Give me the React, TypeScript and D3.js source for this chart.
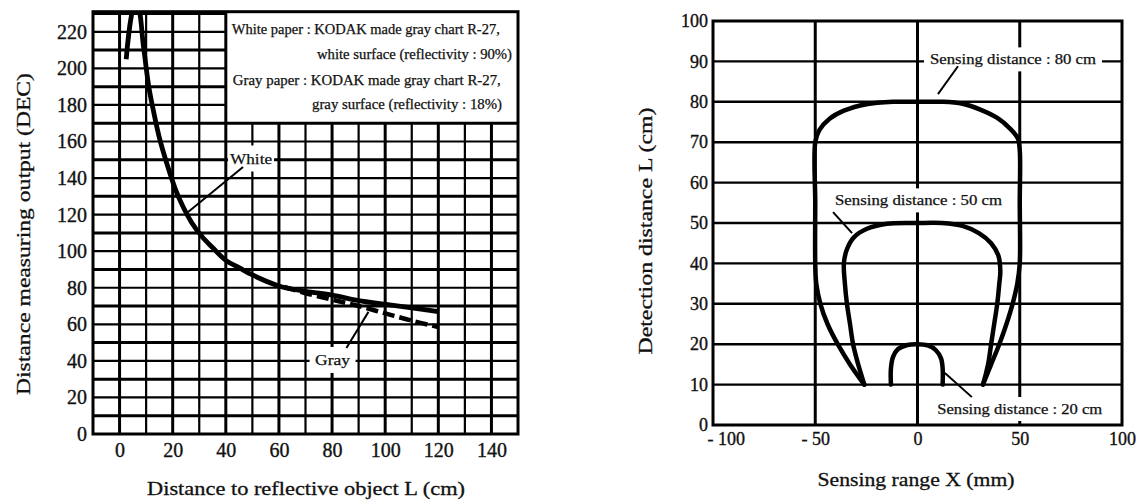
import * as d3 from "d3";
import React, { useRef, useEffect } from "react";

const width = 1141;
const height = 502;
const FONT = '"Liberation Serif", "Times New Roman", Times, serif';
const INK = "#111";

// ---- left chart: distance measuring output vs distance ----
const distanceTicks = [0, 20, 40, 60, 80, 100, 120, 140];
const outputTicks = [0, 20, 40, 60, 80, 100, 120, 140, 160, 180, 200, 220];

// [distance L (cm), output (DEC)]
const whitePaper: [number, number][] = [
  [2.5, 205], [5.6, 234], [6.8, 234], [9, 212], [11, 190], [13, 175],
  [15, 162], [18, 147], [21, 134], [24, 124], [27, 116], [31, 108],
  [35, 102], [40, 95], [45, 91], [50, 87], [60, 81], [70, 78], [80, 76],
  [90, 73], [100, 71], [110, 69], [120, 67],
];
const grayPaper: [number, number][] = [
  [62, 80.5], [70, 77], [80, 73.5], [90, 70], [100, 66], [110, 62], [120, 58.5],
];

const legendLines = [
  "White paper : KODAK made gray chart R-27,",
  "white surface (reflectivity : 90%)",
  "Gray paper : KODAK made gray chart R-27,",
  "gray surface (reflectivity : 18%)",
];

// ---- right chart: detection area ----
const rangeTicks = [-100, -50, 0, 50, 100];
const detectTicks = [0, 10, 20, 30, 40, 50, 60, 70, 80, 90, 100];

// [sensing range X (mm), detection distance L (cm)]
const area80: [number, number][] = [
  [-26, 10], [-33, 15], [-39, 20], [-44, 25], [-47.5, 30], [-49.5, 35],
  [-50, 40], [-50, 55], [-50, 70], [-48, 73], [-43, 75.8], [-36, 77.8],
  [-25, 79.4], [-12, 80], [0, 80], [12, 80], [22, 79.5], [31, 78],
  [39, 76], [45, 73.5], [49, 71], [50, 68], [50, 55], [50, 40],
  [48.8, 35], [46.5, 30], [43.5, 25], [40, 20], [36, 15], [32, 10],
];
const area50: [number, number][] = [
  [-26, 10], [-29, 15], [-31.5, 20], [-33, 25], [-34.5, 30], [-35.5, 35],
  [-36, 40], [-34.5, 43.5], [-31, 46.5], [-25, 48.5], [-15, 49.8], [0, 50],
  [12, 50], [22, 49.3], [30, 47.5], [36, 45], [39.5, 42], [40.5, 38],
  [40, 35], [39, 30], [37.5, 25], [36, 20], [34.5, 15], [32, 10],
];
const area20: [number, number][] = [
  [-13, 10], [-13, 14], [-12, 16.8], [-9.5, 18.8], [-5, 19.8], [0, 20],
  [5, 19.7], [9, 18.5], [11.5, 16.5], [12.3, 14], [12.3, 10],
];

// scales
const xL = d3.scaleLinear().domain([-10, 150]).range([93, 518]);
const yL = d3.scaleLinear().domain([0, 231]).range([434, 11.7]);
const xR = d3.scaleLinear().domain([-100, 100]).range([713, 1122]);
const yR = d3.scaleLinear().domain([0, 100]).range([425, 21]);

// annotations (anchor in data units, widths in px)
const leftNotes = [
  { text: "White", x: 49.5, y: 150.7, len: 42, bg: 46, from: [46.5, 146], to: [25.8, 121.4] },
  { text: "Gray", x: 80.2, y: 40.5, len: 35, bg: 46, from: [85.4, 47], to: [93.7, 66.8] },
];
const rightNotes = [
  { text: "Sensing distance : 80 cm", x: 46.7, y: 90.5, len: 166, bg: 178, from: [19.8, 88.8], to: [10, 81.9] },
  { text: "Sensing distance : 50 cm", x: 0.5, y: 55.6, len: 167, bg: 170, from: [-41.3, 52.7], to: [-32, 47.5] },
  { text: "Sensing distance : 20 cm", x: 50, y: 3.96, len: 165, bg: 170, from: [26.6, 6.9], to: [13.4, 12.9] },
];

const App = () => {
  const lyRef = useRef<SVGGElement>(null);
  const lxRef = useRef<SVGGElement>(null);
  const ryRef = useRef<SVGGElement>(null);
  const rxRef = useRef<SVGGElement>(null);

  useEffect(() => {
    // scanned look: slightly heavier glyphs
    const tidy = (g: any, size: number) => {
      g.attr("font-family", FONT).attr("font-size", size);
      g.select(".domain").remove();
      g.selectAll("text").attr("fill", INK).attr("stroke", INK).attr("stroke-width", 0.35);
    };
    d3.select(lyRef.current)
      .call(d3.axisLeft(yL).tickValues(outputTicks).tickSize(0).tickPadding(6) as any)
      .call((g: any) => tidy(g, 20));
    d3.select(lxRef.current)
      .call(d3.axisBottom(xL).tickValues(distanceTicks).tickSize(0).tickPadding(9) as any)
      .call((g: any) => tidy(g, 20));
    d3.select(ryRef.current)
      .call(d3.axisLeft(yR).tickValues(detectTicks).tickSize(0).tickPadding(5) as any)
      .call((g: any) => tidy(g, 18));
    d3.select(rxRef.current)
      .call(
        d3
          .axisBottom(xR)
          .tickValues(rangeTicks)
          .tickSize(0)
          .tickPadding(7)
          .tickFormat((d: any) => (d < 0 ? `- ${-d}` : `${d}`)) as any
      )
      .call((g: any) => tidy(g, 18));
    // the leftmost label hangs right of its tick
    d3.select(rxRef.current)
      .selectAll(".tick text")
      .filter((d: any) => d === -100)
      .attr("text-anchor", "start")
      .attr("x", -6);
  }, []);

  const lineL = d3
    .line<[number, number]>()
    .x((d) => xL(d[0]))
    .y((d) => yL(d[1]))
    .curve(d3.curveCatmullRom.alpha(0.5));
  const lineR = d3
    .line<[number, number]>()
    .x((d) => xR(d[0]))
    .y((d) => yR(d[1]))
    .curve(d3.curveCatmullRom.alpha(0.5));

  const boxLeft = xL(40);
  const boxRight = xL(150);
  const boxTop = yL(231);

  return (
    <svg
      width={width}
      height={height}
      style={{ position: "absolute", left: 0, top: 0, background: "#fff" }}
    >
      <defs>
        <clipPath id="leftPlot">
          <rect x={xL(-10)} y={yL(231)} width={xL(150) - xL(-10)} height={yL(0) - yL(231)} />
        </clipPath>
      </defs>

      {/* ---------- left chart grid ---------- */}
      <g stroke="#000">
        {d3.range(0, 150, 10).map((v) => (
          <line
            key={"lv" + v}
            x1={xL(v)}
            x2={xL(v)}
            y1={yL(0)}
            y2={v > 40 ? yL(170) : yL(231)}
            strokeWidth={v % 20 === 0 ? 3 : 2.2}
          />
        ))}
        {d3.range(10, 231, 10).map((h) => (
          <line
            key={"lh" + h}
            x1={xL(-10)}
            x2={h > 170 ? xL(40) : xL(150)}
            y1={yL(h)}
            y2={yL(h)}
            strokeWidth={h % 20 === 10 ? 3 : 2.2}
          />
        ))}
      </g>
      {leftNotes.map((n) => (
        <rect
          key={"lbg" + n.text}
          x={xL(n.x) - n.bg / 2}
          y={yL(n.y) - 13}
          width={n.bg}
          height={26}
          fill="#fff"
        />
      ))}
      <rect
        x={xL(-10)}
        y={yL(231)}
        width={xL(150) - xL(-10)}
        height={yL(0) - yL(231)}
        fill="none"
        stroke="#000"
        strokeWidth={3}
      />

      {/* curves */}
      <g clipPath="url(#leftPlot)" fill="none" stroke="#000" strokeLinejoin="round">
        <path d={lineL(grayPaper) || ""} strokeWidth={4.5} strokeDasharray="12 5" />
        <path d={lineL(whitePaper) || ""} strokeWidth={4.8} />
      </g>

      {/* annotations */}
      {leftNotes.map((n) => (
        <g key={"ln" + n.text}>
          <line
            x1={xL(n.from[0])}
            y1={yL(n.from[1])}
            x2={xL(n.to[0])}
            y2={yL(n.to[1])}
            stroke="#000"
            strokeWidth={2}
          />
          <text
            x={xL(n.x)}
            y={yL(n.y)}
            dy="0.35em"
            textAnchor="middle"
            fontFamily={FONT}
            fontSize={15}
            fill={INK}
            stroke={INK}
            strokeWidth={0.25}
            textLength={n.len}
            lengthAdjust="spacingAndGlyphs"
          >
            {n.text}
          </text>
        </g>
      ))}

      {/* legend box text */}
      <g fontFamily={FONT} fontSize={14} fill={INK} stroke={INK} strokeWidth={0.25}>
        <text x={boxLeft + 6} y={boxTop + 22} textLength={268} lengthAdjust="spacingAndGlyphs">
          {legendLines[0]}
        </text>
        <text x={boxRight - 6} y={boxTop + 47} textAnchor="end" textLength={195} lengthAdjust="spacingAndGlyphs">
          {legendLines[1]}
        </text>
        <text x={boxLeft + 7} y={boxTop + 73} textLength={268} lengthAdjust="spacingAndGlyphs">
          {legendLines[2]}
        </text>
        <text x={boxRight - 16} y={boxTop + 97} textAnchor="end" textLength={190} lengthAdjust="spacingAndGlyphs">
          {legendLines[3]}
        </text>
      </g>

      <g ref={lyRef} transform={`translate(${xL(-10)},0)`} />
      <g ref={lxRef} transform={`translate(0,${yL(0)})`} />

      <g fontFamily={FONT} fontSize={19} fill={INK} stroke={INK} strokeWidth={0.3}>
        <text
          transform={`translate(30,234) rotate(-90)`}
          textAnchor="middle"
          textLength={322}
          lengthAdjust="spacingAndGlyphs"
        >
          Distance measuring output (DEC)
        </text>
        <text x={306} y={495} textAnchor="middle" textLength={318} lengthAdjust="spacingAndGlyphs">
          Distance to reflective object L (cm)
        </text>
      </g>

      {/* ---------- right chart grid ---------- */}
      <g stroke="#000">
        {[-50, 0, 50].map((v) => (
          <line key={"rv" + v} x1={xR(v)} x2={xR(v)} y1={yR(0)} y2={yR(100)} strokeWidth={3} />
        ))}
        {d3.range(10, 100, 10).map((h) => (
          <line key={"rh" + h} x1={xR(-100)} x2={xR(100)} y1={yR(h)} y2={yR(h)} strokeWidth={2.4} />
        ))}
      </g>
      {rightNotes.map((n) => (
        <rect
          key={"rbg" + n.text}
          x={xR(n.x) - n.bg / 2}
          y={yR(n.y) - 12}
          width={n.bg}
          height={24}
          fill="#fff"
        />
      ))}
      <rect
        x={xR(-100)}
        y={yR(100)}
        width={xR(100) - xR(-100)}
        height={yR(0) - yR(100)}
        fill="none"
        stroke="#000"
        strokeWidth={3}
      />

      <g fill="none" stroke="#000" strokeWidth={4.5} strokeLinejoin="round" strokeLinecap="round">
        <path d={lineR(area80) || ""} />
        <path d={lineR(area50) || ""} />
        <path d={lineR(area20) || ""} />
      </g>

      {rightNotes.map((n) => (
        <g key={"rn" + n.text}>
          <line
            x1={xR(n.from[0])}
            y1={yR(n.from[1])}
            x2={xR(n.to[0])}
            y2={yR(n.to[1])}
            stroke="#000"
            strokeWidth={2}
          />
          <text
            x={xR(n.x)}
            y={yR(n.y)}
            dy="0.35em"
            textAnchor="middle"
            fontFamily={FONT}
            fontSize={14}
            fill={INK}
            stroke={INK}
            strokeWidth={0.25}
            textLength={n.len}
            lengthAdjust="spacingAndGlyphs"
          >
            {n.text}
          </text>
        </g>
      ))}

      <g ref={ryRef} transform={`translate(${xR(-100)},0)`} />
      <g ref={rxRef} transform={`translate(0,${yR(0)})`} />

      <g fontFamily={FONT} fontSize={19} fill={INK} stroke={INK} strokeWidth={0.3}>
        <text
          transform={`translate(652,231) rotate(-90)`}
          textAnchor="middle"
          textLength={247}
          lengthAdjust="spacingAndGlyphs"
        >
          Detection distance L (cm)
        </text>
        <text x={916} y={486} textAnchor="middle" textLength={197} lengthAdjust="spacingAndGlyphs">
          Sensing range X (mm)
        </text>
      </g>
    </svg>
  );
};

export default App;
